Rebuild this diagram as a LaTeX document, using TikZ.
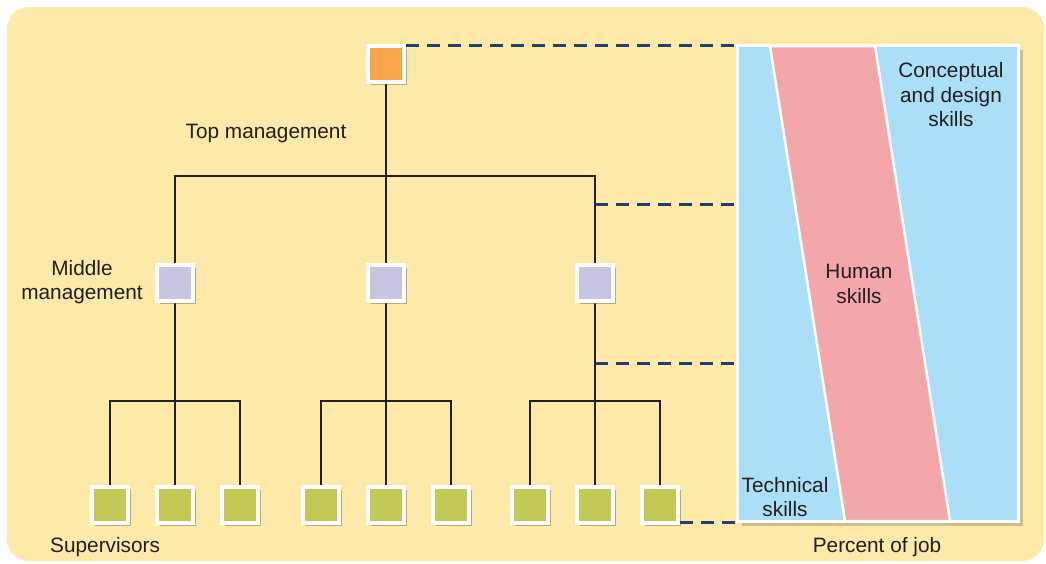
\documentclass[tikz,border=0pt]{standalone}
\usepackage{fontspec}
\setmainfont{Liberation Sans}
\usetikzlibrary{shadows,calc}
\pgfdeclarelayer{bglayer}
\pgfdeclarelayer{linelayer}
\pgfsetlayers{bglayer,linelayer,main}
\definecolor{bgy}{HTML}{FDE9A8}
\definecolor{orangec}{HTML}{F9A64A}
\definecolor{lavc}{HTML}{C7C5E2}
\definecolor{greenc}{HTML}{C3C955}
\definecolor{bluec}{HTML}{ABDFF8}
\definecolor{pinkc}{HTML}{F4A7AA}
\definecolor{dashblue}{HTML}{1E3F70}
\definecolor{treec}{HTML}{231F20}
\definecolor{txt}{HTML}{231F20}
\definecolor{shadc}{HTML}{7A6F50}
\begin{document}
\begin{tikzpicture}[x=1pt,y=-1pt,
  sq/.style={draw=white, line width=4pt, minimum size=36pt, inner sep=0pt,
    drop shadow={shadow xshift=3pt,shadow yshift=-3pt,opacity=0.5,fill=shadc}},
  topsq/.style={sq, fill=orangec},
  midsq/.style={sq, fill=lavc},
  botsq/.style={sq, fill=greenc},
  tree/.style={line width=2.3pt, draw=treec},
  dashln/.style={line width=3pt, draw=dashblue, dash pattern=on 13pt off 8pt},
  lbl/.style={font=\fontsize{20.8}{24.5}\selectfont, text=txt, inner sep=0pt, align=center}
]
\useasboundingbox (0,0) rectangle (1046,563);
\begin{pgfonlayer}{bglayer}
\fill[bgy, rounded corners=22pt] (7,7) rectangle (1044,561);
\end{pgfonlayer}

% boxes
\node[topsq] (top) at (386,64) {};
\node[midsq] (m1) at (175,283) {};
\node[midsq] (m2) at (386,283) {};
\node[midsq] (m3) at (595,283) {};
\node[botsq] (b1) at (110,505) {};
\node[botsq] (b2) at (175,505) {};
\node[botsq] (b3) at (240,505) {};
\node[botsq] (b4) at (321,505) {};
\node[botsq] (b5) at (386,505) {};
\node[botsq] (b6) at (451,505) {};
\node[botsq] (b7) at (530,505) {};
\node[botsq] (b8) at (595,505) {};
\node[botsq] (b9) at (660,505) {};

% right panel
\node[draw=white, fill=bluec, line width=3pt, minimum width=281pt, minimum height=476pt,
  inner sep=0pt, drop shadow={shadow xshift=4pt,shadow yshift=-4pt,opacity=0.35,fill=shadc}]
  (panel) at (878,283.5) {};
\fill[pinkc, draw=white, line width=2.5pt] (770,46) -- (875,46) -- (950,521) -- (845,521) -- cycle;
\draw[white, line width=3pt] (panel.north west) ++(1.5,1.5) rectangle ($(panel.south east)+(-1.5,-1.5)$);

% tree connectors
\coordinate (hl) at (175,176);
\coordinate (hr) at (595,176);
\coordinate (g1l) at (110,401);
\coordinate (g1r) at (240,401);
\coordinate (g2l) at (321,401);
\coordinate (g2r) at (451,401);
\coordinate (g3l) at (530,401);
\coordinate (g3r) at (660,401);
\begin{pgfonlayer}{linelayer}
\draw[tree] (top.center) -- (m2.center);
\draw[tree] (m1.center) -- (hl) -- (hr) -- (m3.center);
\draw[tree] (m1.center) -- (b2.center);
\draw[tree] (m2.center) -- (b5.center);
\draw[tree] (m3.center) -- (b8.center);
\draw[tree] (b1.center) -- (g1l) -- (g1r) -- (b3.center);
\draw[tree] (b4.center) -- (g2l) -- (g2r) -- (b6.center);
\draw[tree] (b7.center) -- (g3l) -- (g3r) -- (b9.center);
\end{pgfonlayer}

% dashed connectors
\coordinate (d0) at ($(top.north east)+(0,1.5)$);
\coordinate (d1) at (595,204);
\coordinate (d2) at (595,363);
\coordinate (d3) at ($(b9.south east)+(0,-3)$);
\draw[dashln] (d0) -- (d0 -| panel.west);
\draw[dashln] (d1) -- (d1 -| panel.west);
\draw[dashln] (d2) -- (d2 -| panel.west);
\draw[dashln] (d3) -- (d3 -| panel.west);

% labels
\node[lbl] (ltop) at (266,133) {Top management};
\node[lbl] (lmid) at (82,282) {Middle\\management};
\node[lbl, anchor=west] (lsup) at (50,547) {Supervisors};
\node[lbl] (lcon) at (951,95) {Conceptual\\and design\\skills};
\node[lbl] (lhum) at (859,284) {Human\\skills};
\node[lbl] (ltec) at (785,497) {Technical\\skills};
\node[lbl] (lpct) at (877,547) {Percent of job};
\end{tikzpicture}
\end{document}
